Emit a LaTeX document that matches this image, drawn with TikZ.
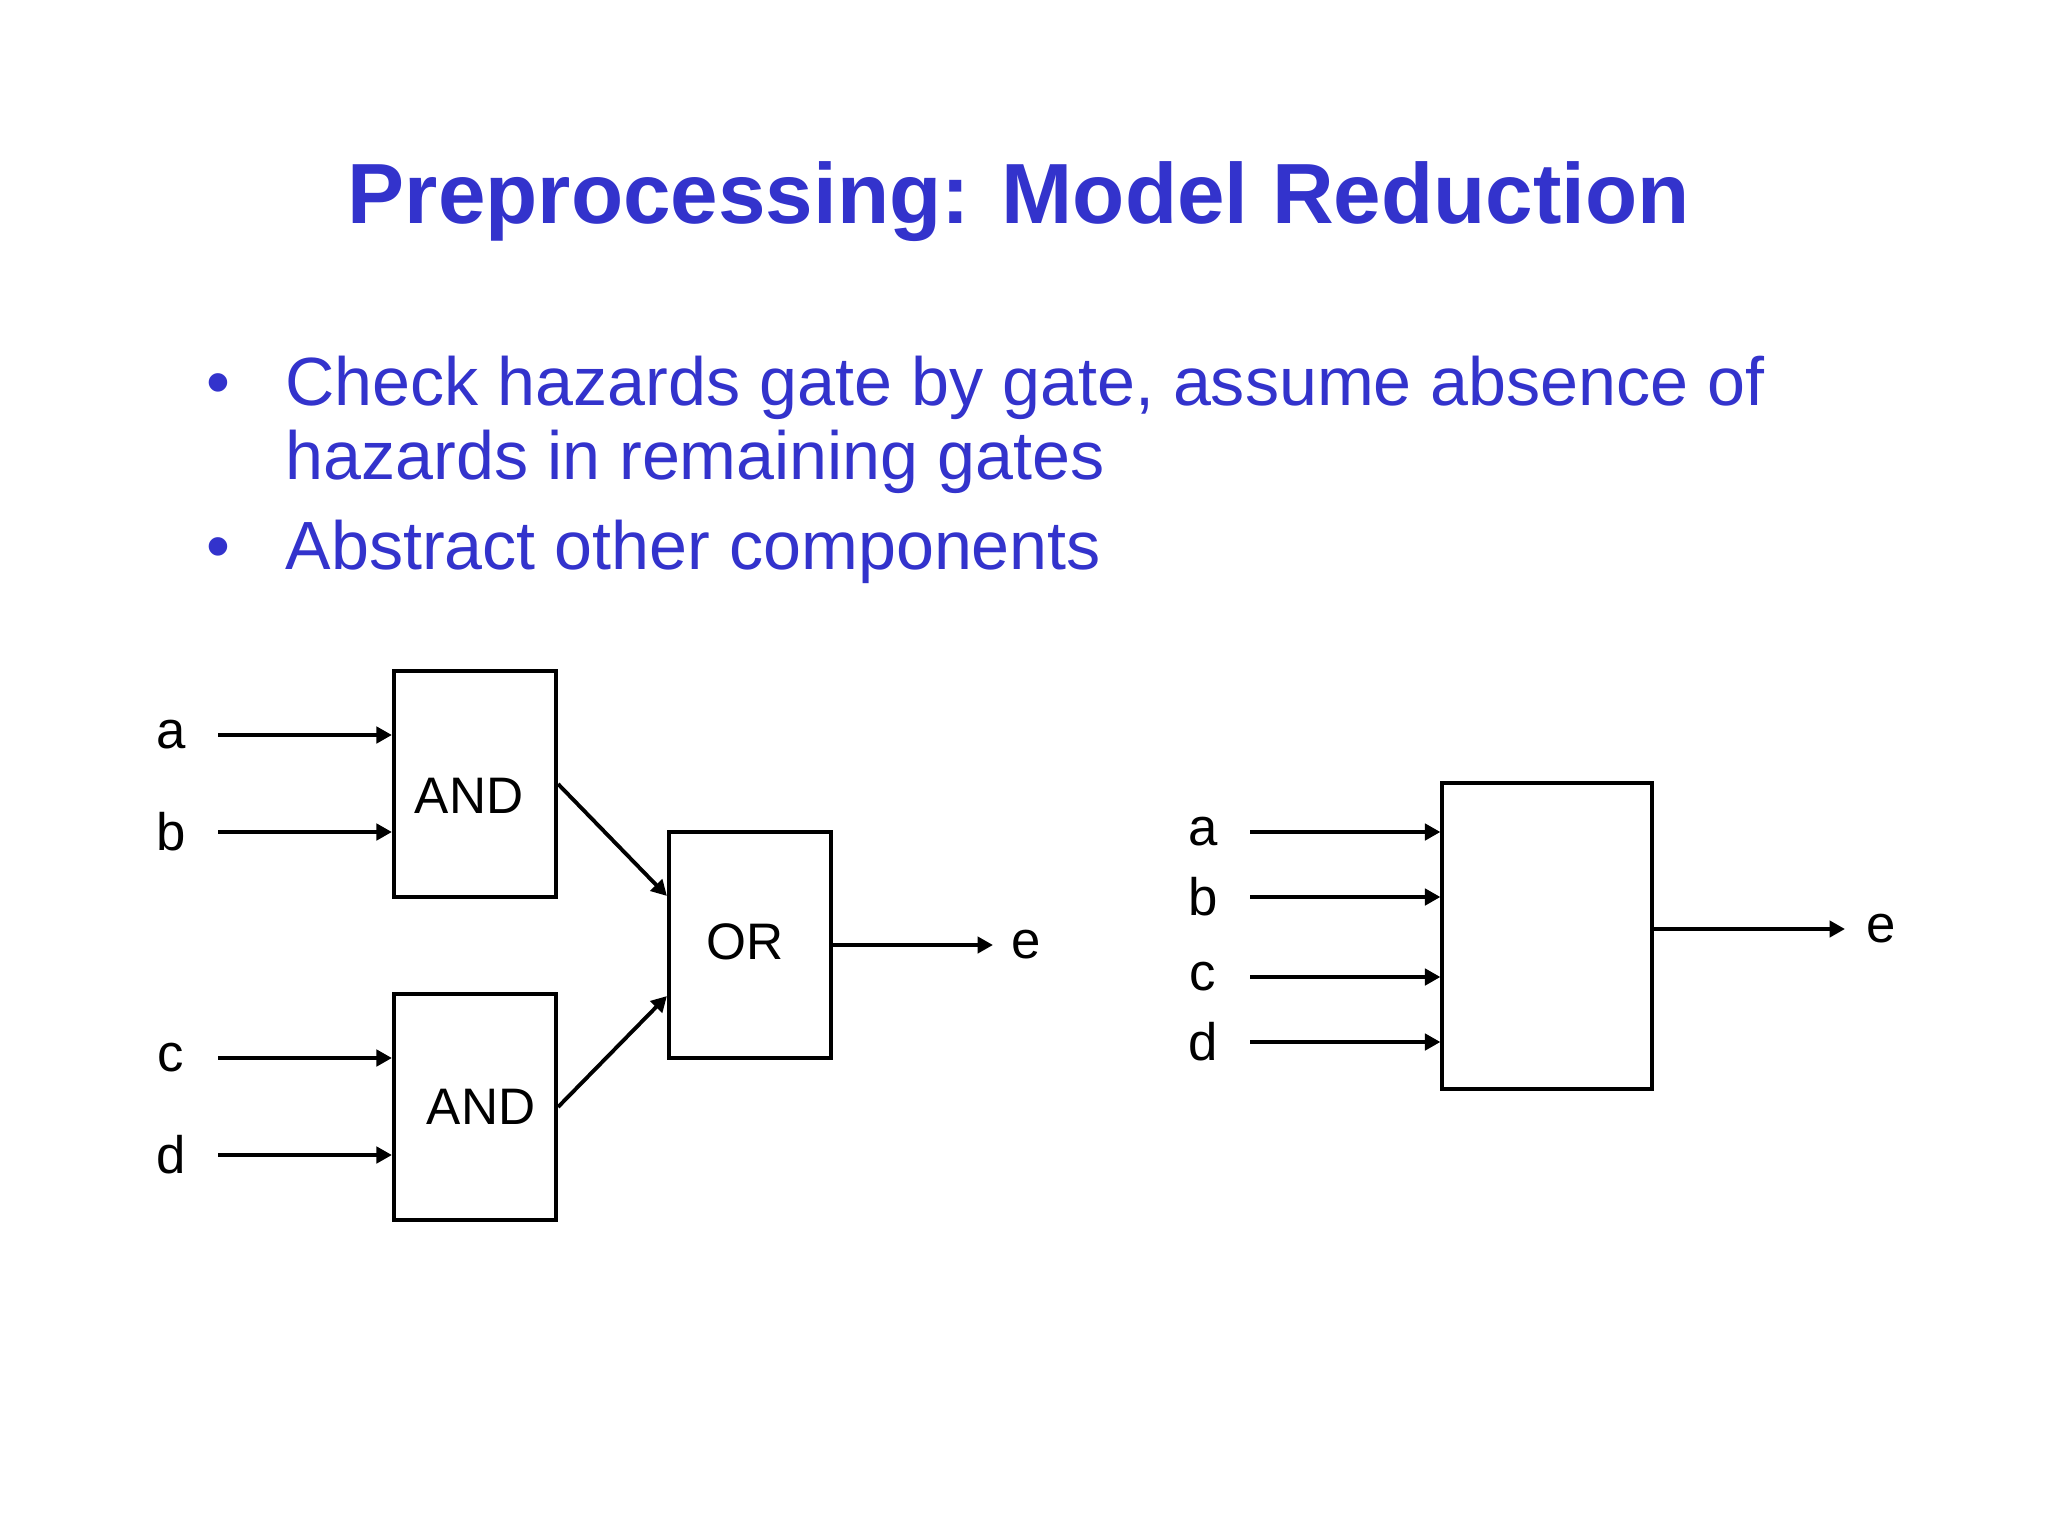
\documentclass[tikz,border=0pt]{standalone}
\usepackage{fontspec}
\setmainfont{Liberation Sans}
\usetikzlibrary{arrows.meta}
\definecolor{slideblue}{RGB}{51,51,204}

\begin{document}
\begin{tikzpicture}[x=0.01cm, y=-0.01cm,
	gate/.style={draw, line width=1.15pt, minimum width=1.62cm, minimum height=2.26cm,
	inner sep=0pt},
	gatetext/.style={font=\fontsize{14.6}{17}\selectfont, inner sep=0pt},
	wire/.style={line width=1.1pt, -{Triangle[length=4.4pt,width=4.6pt]}},
	sig/.style={font=\fontsize{15}{18}\selectfont},
	bodytext/.style={anchor=base west, text=slideblue, inner sep=0pt,
	font=\fontsize{19.4}{23}\selectfont}]
\useasboundingbox[fill=white] (0,0) rectangle (2048,1536);
% title and bullets
\node[anchor=base, text=slideblue, inner sep=0pt, font=\bfseries\fontsize{24.3}{29}\selectfont] (title) at (1019,223) {Preprocessing: Model Reduction};
\node[bodytext, anchor=base] (dot1) at (218,405) {•};
\node[bodytext] (item1) at (285,405) {Check hazards gate by gate, assume absence of};
\node[bodytext] (item1b) at (285,479) {hazards in remaining gates};
\node[bodytext, anchor=base] (dot2) at (218,569) {•};
\node[bodytext] (item2) at (285,569) {Abstract other components};
% gate level circuit
\node[gate] (and1) at (475,784) {};
\node[gate] (and2) at (475,1107) {};
\node[gate] (or) at (750,945) {};
\node[gatetext] (and1txt) at (469,796) {AND};
\node[gatetext] (and2txt) at (481,1107) {AND};
\node[gatetext] (ortxt) at (745,942) {OR};
\foreach \s/\y/\g in {a/735/and1, b/832/and1, c/1058/and2, d/1155/and2} {
	\node[sig] (l\s) at (171,\y) {\s};
	\coordinate (s\s) at (218,\y);
	\draw[wire] (s\s) -- (s\s -| \g.west);
}
\draw[wire] (and1.east) -- ([yshift=0.49cm]or.west);
\draw[wire] (and2.east) -- ([yshift=-0.51cm]or.west);
\coordinate (eo1) at (993,945);
\draw[wire] (or.east) -- (eo1);
\node[sig] (le1) at (1026,945) {e};
% abstracted block
\node[gate, minimum width=2.09cm, minimum height=3.05cm] (blk) at (1547,936) {};
\foreach \s/\y in {a/832, b/897, c/977, d/1042} {
	\node[sig] (r\s) at (1203,\y) {\s};
	\coordinate (t\s) at (1250,\y);
	\draw[wire] (t\s) -- (t\s -| blk.west);
}
\coordinate (eo2) at (1845,929);
\draw[wire] ([yshift=0.07cm]blk.east) -- (eo2);
\node[sig] (le2) at (1881,929) {e};
\end{tikzpicture}
\end{document}
